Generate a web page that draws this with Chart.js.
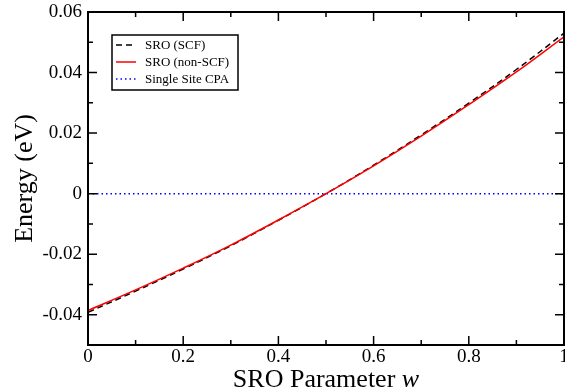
<!DOCTYPE html>
<html>
<head>
<meta charset="utf-8">
<script src="https://cdn.jsdelivr.net/npm/chart.js@4.4.1/dist/chart.umd.min.js"></script>
<style>
  html, body { margin: 0; padding: 0; background: #fff; }
  #wrap { width: 565px; height: 389px; }
</style>
</head>
<body>
<div id="wrap"><canvas id="chart" width="565" height="389"></canvas></div>
<script>
"use strict";

// SRO parameter w (x axis)
const wValues = [0, 0.1, 0.2, 0.3, 0.4, 0.5, 0.6, 0.7, 0.8, 0.9, 1.0];
// Energies (eV)
const sroScf = [-0.0392, -0.0322, -0.0249, -0.0172, -0.0088, 0.0000, 0.0094, 0.0194, 0.0299, 0.0410, 0.0530];
const sroNonScf = [-0.0386, -0.0318, -0.0246, -0.0170, -0.0087, 0.0000, 0.0092, 0.0190, 0.0294, 0.0402, 0.0518];
const cpaW = [0, 1];
const cpaEnergy = [0, 0];

// tick labels
const xTicks = [0, 0.2, 0.4, 0.6, 0.8, 1];
const xTickLabels = ["0", "0.2", "0.4", "0.6", "0.8", "1"];
const yTicks = [-0.04, -0.02, 0, 0.02, 0.04, 0.06];
const yTickLabels = ["-0.04", "-0.02", "0", "0.02", "0.04", "0.06"];

const serif = "'Liberation Serif', 'Times New Roman', serif";

function pairs(xs, ys) {
  return xs.map((x, i) => ({ x: x, y: ys[i] }));
}

// frame, inward ticks, axis titles and legend
const decorPlugin = {
  id: "decor",
  afterDatasetsDraw(chart) {
    const ctx = chart.ctx;
    const a = chart.chartArea;
    const xs = chart.scales.x;
    const ys = chart.scales.y;
    ctx.save();
    ctx.strokeStyle = "#000";
    ctx.lineWidth = 2;
    ctx.setLineDash([]);
    ctx.strokeRect(a.left, a.top, a.right - a.left, a.bottom - a.top);

    ctx.lineWidth = 1.5;
    ctx.beginPath();
    // x ticks (major + minor), bottom and top
    for (let i = 0; i < xTicks.length; i++) {
      const px = xs.getPixelForValue(xTicks[i]);
      ctx.moveTo(px, a.bottom); ctx.lineTo(px, a.bottom - 9);
      ctx.moveTo(px, a.top); ctx.lineTo(px, a.top + 9);
      if (i < xTicks.length - 1) {
        const mx = xs.getPixelForValue((xTicks[i] + xTicks[i + 1]) / 2);
        ctx.moveTo(mx, a.bottom); ctx.lineTo(mx, a.bottom - 5);
        ctx.moveTo(mx, a.top); ctx.lineTo(mx, a.top + 5);
      }
    }
    // y ticks, left and right
    const yAll = [-0.06].concat(yTicks);
    for (let i = 0; i < yAll.length; i++) {
      const py = ys.getPixelForValue(yAll[i]);
      if (py <= a.bottom && py >= a.top) {
        ctx.moveTo(a.left, py); ctx.lineTo(a.left + 9, py);
        ctx.moveTo(a.right, py); ctx.lineTo(a.right - 9, py);
      }
      if (i < yAll.length - 1) {
        const my = ys.getPixelForValue((yAll[i] + yAll[i + 1]) / 2);
        if (my <= a.bottom && my >= a.top) {
          ctx.moveTo(a.left, my); ctx.lineTo(a.left + 5, my);
          ctx.moveTo(a.right, my); ctx.lineTo(a.right - 5, my);
        }
      }
    }
    ctx.stroke();

    // x axis title with italic w
    ctx.fillStyle = "#000";
    ctx.textBaseline = "alphabetic";
    ctx.textAlign = "left";
    const part1 = "SRO Parameter ";
    ctx.font = "26px " + serif;
    const w1 = ctx.measureText(part1).width;
    ctx.font = "italic 26px " + serif;
    const w2 = ctx.measureText("w").width;
    let sx = (a.left + a.right) / 2 - (w1 + w2) / 2;
    ctx.font = "26px " + serif;
    ctx.fillText(part1, sx, 387);
    ctx.font = "italic 26px " + serif;
    ctx.fillText("w", sx + w1, 387);

    // y axis title
    ctx.save();
    ctx.translate(32, (a.top + a.bottom) / 2);
    ctx.rotate(-Math.PI / 2);
    ctx.textAlign = "center";
    ctx.font = "26px " + serif;
    ctx.fillText("Energy (eV)", 0, 0);
    ctx.restore();

    // legend
    const bx = 112, by = 35, bw = 126, bh = 55;
    ctx.fillStyle = "#fff";
    ctx.fillRect(bx, by, bw, bh);
    ctx.lineWidth = 1.5;
    ctx.strokeStyle = "#000";
    ctx.strokeRect(bx, by, bw, bh);
    ctx.font = "13px " + serif;
    ctx.textBaseline = "middle";
    ctx.textAlign = "left";
    chart.data.datasets.forEach((ds, i) => {
      const ry = 45 + i * 17;
      ctx.beginPath();
      ctx.strokeStyle = ds.borderColor;
      ctx.lineWidth = ds.borderWidth;
      ctx.setLineDash(ds.borderDash || []);
      ctx.moveTo(116, ry);
      ctx.lineTo(136, ry);
      ctx.stroke();
      ctx.setLineDash([]);
      ctx.fillStyle = "#000";
      ctx.fillText(ds.label, 145, ry + 1);
    });
    ctx.restore();
  }
};

const ctx0 = document.getElementById("chart");
const myChart = new Chart(ctx0, {
  type: "line",
  data: {
    datasets: [
      {
        label: "SRO (SCF)",
        data: pairs(wValues, sroScf),
        borderColor: "#000000",
        borderWidth: 1.5,
        borderDash: [6, 4],
        pointRadius: 0,
        fill: false,
        tension: 0.4,
        order: 1,
      },
      {
        label: "SRO (non-SCF)",
        data: pairs(wValues, sroNonScf),
        borderColor: "#ff0000",
        borderWidth: 1.5,
        pointRadius: 0,
        fill: false,
        tension: 0.4,
        order: 0,
      },
      {
        label: "Single Site CPA",
        data: pairs(cpaW, cpaEnergy),
        borderColor: "#0000ff",
        borderWidth: 1.5,
        borderDash: [1.5, 3],
        pointRadius: 0,
        fill: false,
        order: 2,
      },
    ],
  },
  options: {
    responsive: false,
    animation: false,
    events: [],
    layout: { padding: { top: 12, right: 1, left: 0, bottom: 0 } },
    plugins: {
      legend: { display: false },
      tooltip: { enabled: false },
    },
    scales: {
      x: {
        type: "linear",
        min: 0,
        max: 1,
        grid: { display: false, drawTicks: false },
        border: { display: false },
        afterBuildTicks: (scale) => { scale.ticks = xTicks.map((v) => ({ value: v })); },
        afterFit: (scale) => {
          scale.height = 44;
          scale.paddingLeft = 0;
          scale.paddingRight = 0;
        },
        ticks: {
          padding: 1,
          maxRotation: 0,
          autoSkip: false,
          color: "#000",
          font: { family: serif, size: 19 },
          callback: (v) => xTickLabels[xTicks.indexOf(v)],
        },
      },
      y: {
        type: "linear",
        min: -0.05,
        max: 0.06,
        grid: { display: false, drawTicks: false },
        border: { display: false },
        afterBuildTicks: (scale) => { scale.ticks = yTicks.map((v) => ({ value: v })); },
        afterFit: (scale) => {
          scale.width = 88;
          scale.paddingTop = 0;
          scale.paddingBottom = 0;
        },
        ticks: {
          padding: 6,
          autoSkip: false,
          color: "#000",
          font: { family: serif, size: 19 },
          callback: (v) => yTickLabels[yTicks.indexOf(v)],
        },
      },
    },
  },
  plugins: [decorPlugin],
});
</script>
</body>
</html>
